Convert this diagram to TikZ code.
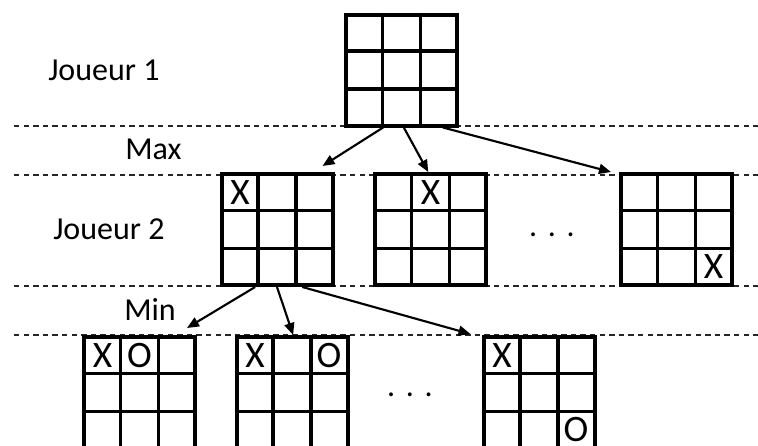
\documentclass[tikz,border=0pt]{standalone}
\usepackage{fontspec}
\setmainfont{Carlito}
\usetikzlibrary{calc,arrows.meta}
\tikzset{
  board/.style={draw=black, fill=white, line width=3pt, minimum size={111*0.75pt}, inner sep=0pt, rectangle},
  gl/.style={line width=2.6pt},
  sep/.style={dashed, line width=1.1pt, dash pattern=on 4pt off 3.2pt, black!85},
  arr/.style={line width=1.6pt, -{Triangle[length=9pt,width=7.5pt]}},
  lbl/.style={inner sep=0pt, anchor=base west, font=\fontsize{24}{28}\selectfont},
  cellmark/.style={inner sep=0pt, font=\fontsize{28}{32}\selectfont},
  dotsnode/.style={inner sep=0pt, anchor=base, font=\fontsize{24}{28}\selectfont}
}
\newcommand{\gridlines}[1]{%
  \foreach \f in {0.3333,0.6667}{%
    \draw[gl] ($(#1.north west)!\f!(#1.north east)$) -- ($(#1.south west)!\f!(#1.south east)$);
    \draw[gl] ($(#1.north west)!\f!(#1.south west)$) -- ($(#1.north east)!\f!(#1.south east)$);
  }}
\begin{document}
\begin{tikzpicture}[x=0.75pt,y=-0.75pt]
\useasboundingbox (0,0) rectangle (758,446);
\clip (0,0) rectangle (758,446);
% separators
\foreach \yy in {126,175,286,335}{\draw[sep] (14,\yy) -- (758,\yy);}
% labels
\node[lbl] (j1) at (48,80) {Joueur 1};
\node[lbl] (max) at (125,159) {Max};
\node[lbl] (j2) at (53,239) {Joueur 2};
\node[lbl] (min) at (124,320) {Min};
% boards
\node[board] (g0) at (401.5,70) {};
\node[board] (g1) at (277,229.5) {};
\node[board] (g2) at (430.5,229.5) {};
\node[board] (g3) at (676.5,229.5) {};
\node[board] (g4) at (139.5,392.5) {};
\node[board] (g5) at (292,392.5) {};
\node[board] (g6) at (539,392.5) {};
\foreach \g in {g0,g1,g2,g3,g4,g5,g6}{\gridlines{\g}}
% marks
\node[cellmark] (m1) at ($(g1)+(-37,-37)$) {X};
\node[cellmark] (m2) at ($(g2)+(0,-37)$) {X};
\node[cellmark] (m3) at ($(g3)+(37,37)$) {X};
\node[cellmark] (m4a) at ($(g4)+(-37,-37)$) {X};
\node[cellmark] (m4b) at ($(g4)+(0,-37)$) {O};
\node[cellmark] (m5a) at ($(g5)+(-37,-37)$) {X};
\node[cellmark] (m5b) at ($(g5)+(37,-37)$) {O};
\node[cellmark] (m6a) at ($(g6)+(-37,-37)$) {X};
\node[cellmark] (m6b) at ($(g6)+(37,37)$) {O};
% ellipses
\node[dotsnode] (d1) at (552,236) {.\,\,.\,\,.};
\node[dotsnode] (d2) at (410,396) {.\,\,.\,\,.};
% arrows
\draw[arr] ($(g0.south west)!0.34!(g0.south east)$) -- ($(g1.north east)+(-12,-6)$);
\draw[arr] ($(g0.south west)!0.52!(g0.south east)$) -- ($(g2.north west)!0.48!(g2.north east)$);
\draw[arr] ($(g0.south west)!0.86!(g0.south east)$) -- ($(g3.north west)+(-8,0)$);
\draw[arr] ($(g1.south west)!0.31!(g1.south east)$) -- ($(g4.north east)+(-10,-7)$);
\draw[arr] ($(g1.south west)!0.50!(g1.south east)$) -- ($(g5.north west)!0.51!(g5.north east)$);
\draw[arr] ($(g1.south west)!0.72!(g1.south east)$) -- ($(g6.north west)+(-11,-1)$);
\end{tikzpicture}
\end{document}
